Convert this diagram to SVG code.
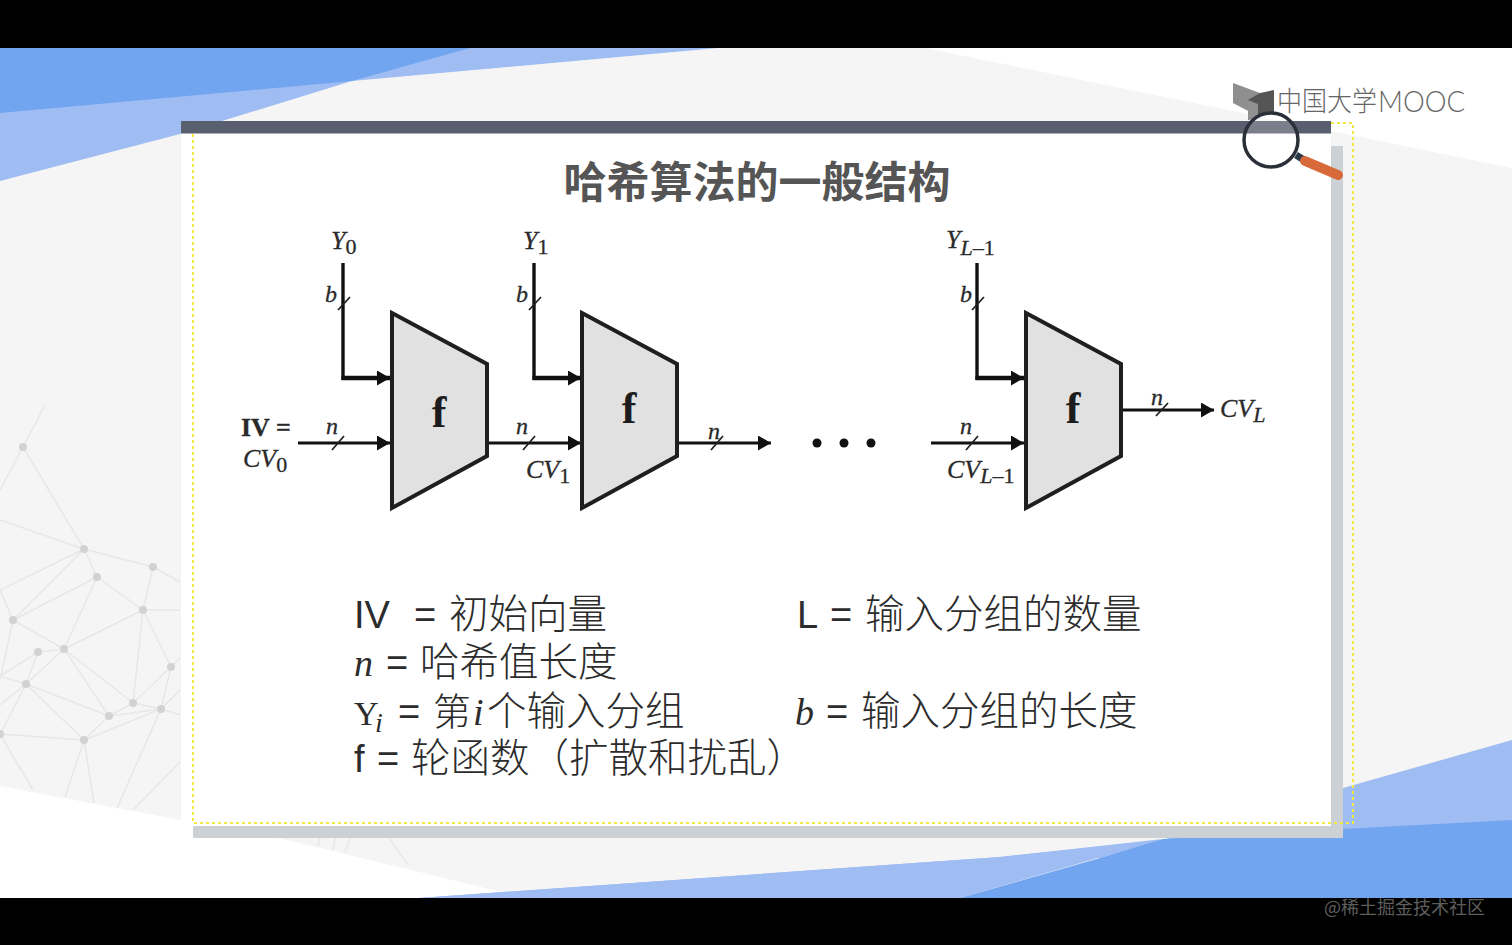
<svg xmlns="http://www.w3.org/2000/svg" width="1512" height="945" viewBox="0 0 1512 945">
<style>
.s{font-family:"Liberation Serif",serif;fill:#2a2a2a;stroke:#2a2a2a;stroke-width:.3}
.i{font-style:italic}
.lbl{font-size:26px}
.sub{font-size:22px}
.nl{font-size:24px}
.f{font-family:"Liberation Serif",serif;font-weight:bold;font-size:44px;fill:#1c1c1c;text-anchor:middle}
.t{font-family:"Liberation Sans",sans-serif;font-size:38px;fill:#2c2c2c}
.tm{font-family:"Liberation Serif",serif;font-size:38px;fill:#2c2c2c}
.cj{font-family:"Noto Sans CJK SC",sans-serif;font-weight:300;font-size:39.5px;fill:#2c2c2c}
.blk{fill:#e1e1e1;stroke:#1f1f1f;stroke-width:4}
.w{fill:none;stroke:#111;stroke-width:3}
.v{fill:none;stroke:#111;stroke-width:3.4}
.h{fill:none;stroke:#111;stroke-width:4.6}
.tk{fill:none;stroke:#222;stroke-width:1.8}
.net{fill:none;stroke:#e7e7e7;stroke-width:1.5}
.dot{fill:#d2d2d2}
</style>
<defs>
<marker id="ar" markerUnits="userSpaceOnUse" markerWidth="15" markerHeight="16" refX="13" refY="7.5" orient="auto"><path d="M0 0L13 7.5L0 15Z" fill="#111"/></marker>
</defs>
<g id="background">
<rect width="1512" height="945" fill="#fff"/>
<path d="M0 48H925L1512 168V742L1343 788L960 898H527L287 840L0 786Z" fill="#f5f5f5"/>
<path d="M0 48H718L352 81L180 134L0 181Z" fill="#9fbdf2"/>
<path d="M0 48H470L352 81L0 113Z" fill="#72a5f0"/>
<path d="M1512 740V825L1343 835L1163 840L1000 857L960 898L419 898L1000 857L1100 858L1343 788Z" fill="#9fbdf2"/>
<path d="M419 898L1000 857L1163 839L960 898Z" fill="#9fbdf2"/>
<path d="M960 898L1100 858L1163 839L1343 829L1512 820V898Z" fill="#72a5f0"/>
</g>
<g id="network">
<path class="net" d="M23 447L84 549M23 447L0 490M23 447L45 405M0 520L84 549M84 549L153 567M84 549L97 577M84 549L0 590M84 549L13 620M97 577L13 620M97 577L143 610M97 577L64 649M153 567L143 610M153 567L180 582M143 610L64 649M143 610L180 610M143 610L171 667M143 610L133 703M13 620L64 649M13 620L0 590M13 620L0 680M38 652L64 649M38 652L0 676M38 652L26 684M64 649L26 684M64 649L109 716M64 649L133 703M171 667L133 703M171 667L161 709M171 667L180 658M0 676L26 684M26 684L84 740M26 684L109 716M26 684L0 735M26 684L0 705M109 716L133 703M109 716L161 709M109 716L84 740M133 703L161 709M84 740L161 709M0 734L84 740M84 740L65 797M84 740L94 803M0 734L33 790M161 709L117 808M161 709L180 690M161 709L180 715M180 762L133 810M320 838L318 846M335 838L333 850M350 838L345 852M389 838L408 865"/>
<g class="dot"><circle cx="23" cy="447" r="4"/><circle cx="84" cy="549" r="4"/><circle cx="153" cy="567" r="4"/><circle cx="97" cy="577" r="4"/><circle cx="143" cy="610" r="4"/><circle cx="13" cy="620" r="4"/><circle cx="38" cy="652" r="4"/><circle cx="64" cy="649" r="4"/><circle cx="171" cy="667" r="4"/><circle cx="26" cy="684" r="4"/><circle cx="133" cy="703" r="4"/><circle cx="109" cy="716" r="4"/><circle cx="161" cy="709" r="4"/><circle cx="84" cy="740" r="4"/><circle cx="0" cy="734" r="4"/></g>
</g>
<g id="slide">
<path d="M1331 146H1343V838H193V826H1331Z" fill="#ccd1d5"/>
<rect x="181" y="133" width="1150" height="693" fill="#fff"/>
<rect x="181" y="826" width="12" height="12" fill="#fff" opacity="0"/>
<path d="M1331 123H1353V823H193V134" fill="none" stroke="#f2ea3c" stroke-width="2" stroke-dasharray="3 3"/>
<rect x="181" y="121" width="1150" height="12.500" fill="#5a5f70"/>
</g>
<g id="logo">
<path d="M1233 83L1260 93V112L1250 112L1233 103Z" fill="#8f8f8f"/>
<path d="M1248 100L1260 93L1274 90V112L1248 120Z" fill="#555"/>
<path d="M1248 100L1258 104V116L1248 120Z" fill="#909090"/>
<text x="1277" y="111" textLength="100" lengthAdjust="spacingAndGlyphs" font-family="Noto Sans CJK SC,sans-serif" font-weight="300" font-size="27" fill="#666">中国大学</text>
<text x="1378" y="112" textLength="87" lengthAdjust="spacingAndGlyphs" font-family="Lato,sans-serif" font-weight="300" font-size="30" fill="#666">MOOC</text>
</g>
<g id="magnifier">
<circle cx="1271" cy="140" r="27" fill="#fff" fill-opacity=".2" stroke="#2a2f38" stroke-width="3.5"/>
<path d="M1296 155L1304 160" stroke="#2a3a48" stroke-width="7"/>
<path d="M1305 161L1338 175" stroke="#d8693a" stroke-width="10" stroke-linecap="round"/>
</g>
<text id="title" x="757" y="198" text-anchor="middle" font-family="Noto Sans CJK SC,sans-serif" font-weight="700" font-size="43" fill="#555">哈希算法的一般结构</text>
<g id="connectors">
<path class="v" d="M343 263V380"/><path class="h" d="M341.500 378H390" marker-end="url(#ar)"/>
<path class="w" d="M298 443H390" marker-end="url(#ar)"/>
<path class="v" d="M534 263V380"/><path class="h" d="M532.500 378H581" marker-end="url(#ar)"/>
<path class="w" d="M488 443H581" marker-end="url(#ar)"/>
<path class="w" d="M678 443H771" marker-end="url(#ar)"/>
<path class="v" d="M977 263V380"/><path class="h" d="M975.500 378H1024" marker-end="url(#ar)"/>
<path class="w" d="M931 443H1024" marker-end="url(#ar)"/>
<path class="w" d="M1122 410H1214" marker-end="url(#ar)"/>
<path class="tk" d="M350 297L338 310M541 297L529 310M984 297L972 310M344 436L332 450M535 436L523 450M723 436L711 450M978 436L966 450M1168 403L1156 416"/>
</g>
<g id="block1"><path class="blk" d="M392 313L487 364V456L392 508Z"/><text class="f" x="439" y="427">f</text></g>
<g id="block2"><path class="blk" d="M582 313L677 364V456L582 508Z"/><text class="f" x="629" y="423">f</text></g>
<g id="block3"><path class="blk" d="M1026 313L1121 364V456L1026 508Z"/><text class="f" x="1073" y="423">f</text></g>
<g id="labels">
<text class="s i lbl" x="331" y="249">Y<tspan class="sub" font-style="normal" dx="0" dy="5">0</tspan></text>
<text class="s i lbl" x="523" y="249">Y<tspan class="sub" font-style="normal" dx="0" dy="5">1</tspan></text>
<text class="s i lbl" x="946" y="248">Y<tspan class="sub" dy="7">L</tspan><tspan class="sub" font-style="normal">–1</tspan></text>
<text class="s i nl" x="325" y="302">b</text><text class="s i nl" x="516" y="302">b</text><text class="s i nl" x="960" y="302">b</text>
<text class="s i nl" x="326" y="434">n</text><text class="s i nl" x="516" y="434">n</text><text class="s i nl" x="708" y="439">n</text><text class="s i nl" x="960" y="434">n</text><text class="s i nl" x="1151" y="405">n</text>
<text class="s lbl" font-weight="bold" x="241" y="436">IV =</text>
<text class="s i lbl" x="243" y="467">CV<tspan class="sub" font-style="normal" dy="5">0</tspan></text>
<text class="s i lbl" x="526" y="478">CV<tspan class="sub" font-style="normal" dy="5">1</tspan></text>
<text class="s i lbl" x="947" y="478">CV<tspan class="sub" dy="5">L</tspan><tspan class="sub" font-style="normal">–1</tspan></text>
<text class="s i lbl" x="1220" y="417">CV<tspan class="sub" dy="5">L</tspan></text>
</g>
<g id="dots" fill="#111"><circle cx="817" cy="443" r="4.500"/><circle cx="844" cy="443" r="4.500"/><circle cx="871" cy="443" r="4.500"/></g>
<g id="legend">
<text class="t" x="354" y="628">IV</text><text class="t" x="414" y="628">=</text><text class="cj" x="449" y="628">初始向量</text>
<text class="tm i" x="354" y="676">n</text><text class="t" x="386" y="676">=</text><text class="cj" x="420" y="676">哈希值长度</text>
<text class="tm" font-size="34" style="font-size:34px" x="354" y="725">Y</text><text class="tm i" style="font-size:28px" x="375" y="732">i</text><text class="t" x="398" y="725">=</text><text class="cj" style="font-size:38px" x="433" y="725">第</text><text class="tm i" x="473" y="725">i</text><text class="cj" x="487" y="725">个输入分组</text>
<text class="t" x="354" y="772">f</text><text class="t" x="377" y="772">=</text><text class="cj" x="411" y="772">轮函数（扩散和扰乱）</text>
<text class="t" x="797" y="628">L</text><text class="t" x="830" y="628">=</text><text class="cj" x="865" y="628">输入分组的数量</text>
<text class="tm i" x="795" y="725">b</text><text class="t" x="826" y="725">=</text><text class="cj" x="861" y="725">输入分组的长度</text>
</g>
<g id="bars"><rect width="1512" height="48" fill="#000"/><rect y="898" width="1512" height="47" fill="#000"/>
<text x="1324" y="914" font-family="Noto Sans CJK SC,sans-serif" font-size="18" fill="#5e5e5e">@稀土掘金技术社区</text></g>
</svg>
